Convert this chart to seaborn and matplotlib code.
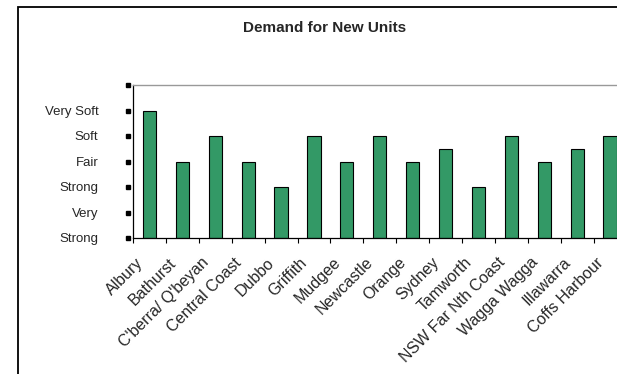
import numpy as np
import pandas as pd
import matplotlib
matplotlib.use('Agg')
import matplotlib.pyplot as plt
import matplotlib.transforms as mtransforms
from matplotlib.patches import Rectangle
import seaborn as sns

# data (1 = Very Strong ... 5 = Very Soft)
regions = ['Albury', 'Bathurst', "C'berra/ Q'beyan", 'Central Coast', 'Dubbo',
           'Griffith', 'Mudgee', 'Newcastle', 'Orange', 'Sydney', 'Tamworth',
           'NSW Far Nth Coast', 'Wagga Wagga', 'Illawarra', 'Coffs Harbour']
demand = [5, 3, 4, 3, 2, 4, 3, 4, 3, 3.5, 2, 4, 3, 3.5, 4]
level_values = [0.75, 2, 3, 4, 5]
level_labels = ['Very\nStrong', 'Strong', 'Fair', 'Soft', 'Very Soft']

sns.set_style('white')
plt.rcParams['font.family'] = ['Liberation Sans', 'DejaVu Sans']

df = pd.DataFrame({'region': regions, 'demand': demand})

W, H = 617, 374
fig = plt.figure(figsize=(W / 100, H / 100), dpi=100)
ax = fig.add_axes([133 / W, (H - 238) / H, 493.5 / W, 153 / H])

sns.barplot(data=df, x='region', y='demand', color='#339966', saturation=1,
            width=0.4, edgecolor='black', linewidth=0.8, ax=ax)

ax.set_xlim(-0.5, len(regions) - 0.5)
ax.set_ylim(0, 6)
ax.set_xlabel('')
ax.set_ylabel('')

# spines: black axes, grey plot-area border
ax.spines['left'].set_color('black')
ax.spines['bottom'].set_color('black')
ax.spines['left'].set_linewidth(0.9)
ax.spines['bottom'].set_linewidth(0.9)
ax.spines['top'].set_color('#999999')
ax.spines['top'].set_linewidth(1.0)
ax.spines['right'].set_visible(False)

# y labels
ax.set_yticks(level_values)
ax.set_yticklabels(level_labels, fontsize=9.5, linespacing=2.45)
ax.tick_params(axis='y', length=0, pad=25)

# small square tick marks on the value axis
ytick_pos = np.arange(0, 7)
trans = mtransforms.blended_transform_factory(ax.transAxes, ax.transData)
ax.plot(np.full(len(ytick_pos), -0.011), ytick_pos, linestyle='none', marker='s',
        markersize=2.3, color='black', transform=trans, clip_on=False)

# x labels, rotated 45
ax.set_xticks(np.arange(len(regions)))
ax.set_xticklabels(regions, fontsize=11.5, rotation=45, ha='right', va='center',
                   rotation_mode='anchor')
ax.tick_params(axis='x', which='major', length=0, pad=16)
offset = mtransforms.ScaledTranslation(-9 / 100, 0, fig.dpi_scale_trans)
for lab in ax.get_xticklabels():
    lab.set_transform(lab.get_transform() + offset)

ax.set_xticks(np.arange(-0.5, len(regions)), minor=True)
ax.tick_params(axis='x', which='minor', direction='out', length=3.6, width=0.8,
               color='black', bottom=True)

# chart area border
fig.patches.append(Rectangle((18 / W, -0.1), 1.2, 1.1 - 7 / H, transform=fig.transFigure,
                             fill=False, edgecolor='black', linewidth=1.3))

fig.text(325 / W, 1 - 28 / H, 'Demand for New Units', ha='center', va='center',
         fontsize=11, fontweight='bold')

fig.savefig('out.png', dpi=100)
